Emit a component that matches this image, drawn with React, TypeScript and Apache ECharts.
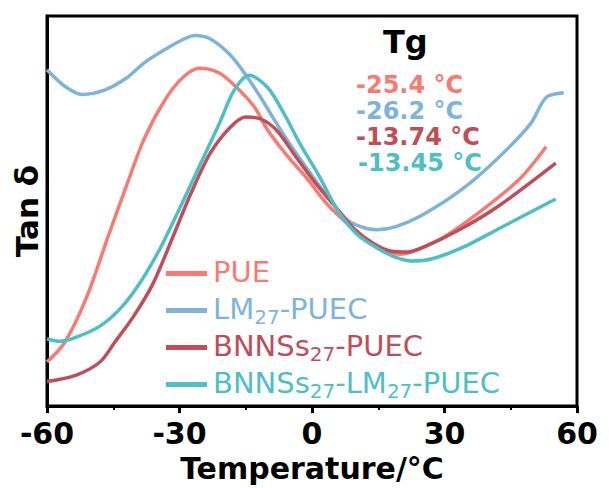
import React, { useEffect, useRef } from "react";
import * as echarts from "echarts";

const seriesNames = ["PUE", "LM27-PUEC", "BNNSs27-PUEC", "BNNSs27-LM27-PUEC"];
const colors = ["#F77B72", "#7FB4DA", "#C04E59", "#4DBFC5"];

const pueX = [-60, -56, -51, -46, -42, -38, -33, -29, -25.5, -21, -17, -13, -10, -5.5, -1, 3, 7.5, 12, 16, 20, 23, 29.5, 38, 47, 53];
const pueY = [11.3, 16.3, 28, 44, 56.5, 68.5, 79, 84.5, 86.6, 85.4, 81.6, 76.6, 70.7, 64, 58.2, 52.3, 47.3, 43.1, 40.2, 38.9, 39.7, 43.1, 49.8, 58.2, 66.5];

const lmX = [-60, -56, -52, -47, -42, -38, -33, -29, -26.5, -23, -18.5, -15, -11.6, -8, -4.6, -1, 3.3, 7.6, 11, 14.6, 19, 25, 34, 42.5, 49.5, 53, 57];
const lmY = [86.2, 82, 79.9, 81, 84.1, 88, 91.6, 94.1, 95, 94.1, 90, 84.9, 79.1, 72.4, 66.5, 60.7, 54, 48.1, 46, 45.2, 46, 49, 55.6, 64, 72.4, 79.1, 80.3];

const bnX = [-60, -53.5, -48, -44.7, -40.4, -36, -31.6, -27.3, -23, -18.5, -15, -11.6, -8, -3.7, 0.7, 5, 9.4, 13.7, 18, 21.6, 25, 34, 42.5, 55.2];
const bnY = [6.3, 7.9, 11.3, 16.3, 23, 31.4, 43.1, 54.8, 64.9, 71.5, 74.1, 73.6, 70.7, 64, 57.3, 51.5, 45.6, 41.8, 39.7, 39.5, 40.6, 45.6, 51.5, 62.3];

const blX = [-60, -57, -53.5, -48, -43, -38.6, -34.3, -30, -25.5, -21, -17.7, -14.2, -10, -6.3, -2.8, 1.6, 6, 10.3, 14.6, 19, 22.5, 27, 34, 42.5, 55.2];
const blY = [17.2, 16.6, 17.6, 20.5, 25.5, 32.2, 40.6, 50.6, 61.5, 72.4, 80.8, 84.8, 81.6, 74.9, 67.4, 59, 49.8, 43.9, 40.6, 38.1, 37.2, 37.7, 40.6, 45.6, 53.1];

const xTicks = [-60, -30, 0, 30, 60];
const tgLabels = ["-25.4 °C", "-26.2 °C", "-13.74 °C", "-13.45 °C"];

const allX = [pueX, lmX, bnX, blX];
const allY = [pueY, lmY, bnY, blY];

const legendRich: Record<string, any> = {};
colors.forEach((c, i) => {
  legendRich["n" + i] = { color: c, fontSize: 29, fontFamily: "DejaVu Sans", lineHeight: 33, verticalAlign: "top" };
  legendRich["s" + i] = { color: c, fontSize: 20, fontFamily: "DejaVu Sans", lineHeight: 20, verticalAlign: "bottom" };
});

function fmtLegend(name: string): string {
  const i = seriesNames.indexOf(name);
  const parts = name.split("27");
  let out = "";
  parts.forEach((p, k) => {
    if (p) out += `{n${i}|${p}}`;
    if (k < parts.length - 1) out += `{s${i}|27}`;
  });
  if (parts.length === 1) out += `{s${i}| }`;
  return out;
}

export default function App() {
  const ref = useRef<HTMLDivElement>(null);
  useEffect(() => {
    if (!ref.current) return;
    const chart = echarts.init(ref.current, undefined, { renderer: "svg" });
    chart.setOption({
      animation: false,
      backgroundColor: "#ffffff",
      grid: { left: 47, right: 32, top: 16, bottom: 78, show: true, borderColor: "#000", borderWidth: 3 },
      xAxis: {
        type: "value",
        min: -60,
        max: 60,
        interval: 30,
        axisLine: { show: true, onZero: false, lineStyle: { color: "#000", width: 3 } },
        axisTick: { show: true, inside: false, length: 7, lineStyle: { color: "#000", width: 3 } },
        minorTick: { show: true, splitNumber: 2, length: 4, lineStyle: { color: "#000", width: 2 } },
        splitLine: { show: false },
        axisLabel: {
          color: "#000",
          fontSize: 30,
          fontWeight: "bold",
          fontFamily: "DejaVu Sans",
          margin: 12,
          formatter: (v: number) => (xTicks.includes(v) ? String(v) : ""),
        },
        name: "Temperature/°C",
        nameLocation: "middle",
        nameGap: 37,
        nameTextStyle: { color: "#000", fontSize: 30, fontWeight: "bold", fontFamily: "DejaVu Sans" },
      },
      yAxis: {
        type: "value",
        min: 0,
        max: 100,
        axisLine: { show: true, onZero: false, lineStyle: { color: "#000", width: 3 } },
        axisTick: { show: false },
        axisLabel: { show: false },
        splitLine: { show: false },
        name: "Tan δ",
        nameLocation: "middle",
        nameRotate: 90,
        nameGap: 5,
        nameTextStyle: { color: "#000", fontSize: 31, fontWeight: "bold", fontFamily: "DejaVu Sans" },
      },
      legend: {
        orient: "vertical",
        left: 161,
        top: 252,
        itemWidth: 41,
        itemHeight: 5,
        itemGap: 4,
        icon: "rect",
        selectedMode: false,
        data: seriesNames,
        formatter: fmtLegend,
        textStyle: { rich: legendRich, padding: [0, 0, 0, 1] },
      },
      series: seriesNames.map((name, i) => ({
        name,
        type: "line",
        smooth: 0.3,
        showSymbol: false,
        symbol: "none",
        lineStyle: { color: colors[i], width: 3.5 },
        itemStyle: { color: colors[i] },
        data: allX[i].map((x, k) => [x, allY[i][k]]),
      })),
      graphic: [
        {
          type: "text",
          left: 383,
          top: 26,
          style: { text: "Tg", fill: "#000", font: "bold 32px 'DejaVu Sans'" },
        },
        ...tgLabels.map((t, i) => ({
          type: "text",
          x: i === 3 ? 358 : 356,
          y: 85 + i * 26,
          style: {
            text: t,
            fill: colors[i],
            font: "bold 24px 'DejaVu Sans'",
            textVerticalAlign: "middle",
          },
        })),
      ],
    });
    return () => chart.dispose();
  }, []);
  return <div ref={ref} style={{ width: 609, height: 488, position: "absolute", left: 0, top: 0 }} />;
}
